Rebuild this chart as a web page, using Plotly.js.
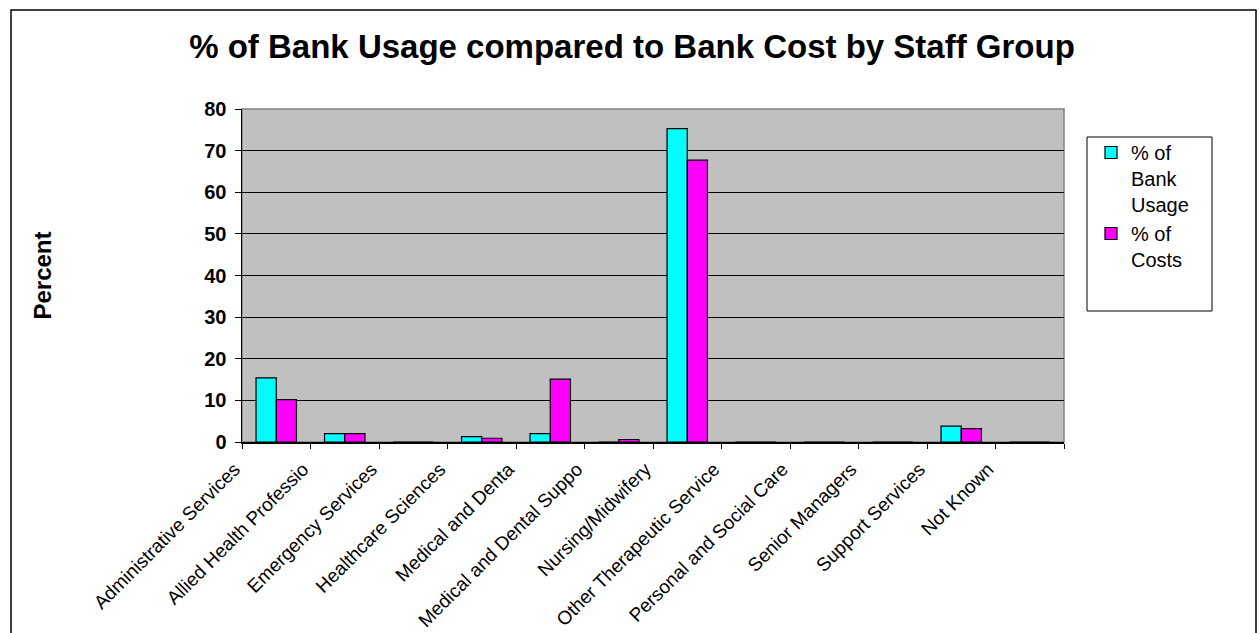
<!DOCTYPE html>
<html>
<head>
<meta charset="utf-8">
<script src="https://cdn.plot.ly/plotly-3.0.1.min.js"></script>
<style>html,body{margin:0;padding:0;background:#fff;}#chart{width:1259px;height:633px;}</style>
</head>
<body>
<div id="chart"></div>
<script>
const categories = ["Administrative Services","Allied Health Professio","Emergency Services","Healthcare Sciences","Medical and Denta","Medical and Dental Suppo","Nursing/Midwifery","Other Therapeutic Service","Personal and Social Care","Senior Managers","Support Services","Not Known"];
const bankUsage = [15.4, 2.0, 0, 1.3, 2.0, 0, 75.3, 0, 0, 0, 3.8, 0];
const bankCosts = [10.2, 2.0, 0, 0.9, 15.1, 0.6, 67.7, 0, 0, 0, 3.2, 0];
const seriesNames = ["% of<br>Bank<br>Usage", "% of<br>Costs"];
const yTicks = [0,10,20,30,40,50,60,70,80];

const L = 242, R = 1064, T = 109, B = 442, W = 1259, H = 633;
const pw = R - L, ph = B - T;
const px = v => (v - L) / pw;
const py = v => (B - v) / ph;
const FONT = 'Liberation Sans, Arial, sans-serif';
const NB = '\u00A0\u00A0';

const traces = [
  {type:'bar', x:categories, y:bankUsage, name:seriesNames[0],
   marker:{color:'#00FFFF', line:{color:'#000', width:1.2}}},
  {type:'bar', x:categories, y:bankCosts, name:seriesNames[1],
   marker:{color:'#FF00FF', line:{color:'#000', width:1.2}}},
  // carrier for the label axis; draws nothing
  {type:'scatter', mode:'markers', xaxis:'x2', yaxis:'y',
   x:categories.map((c,i)=>i), y:categories.map(()=>null),
   showlegend:false, hoverinfo:'skip', marker:{opacity:0}}
];

const layout = {
  width:W, height:H,
  margin:{l:L, r:W-R, t:T, b:H-B, pad:0},
  paper_bgcolor:'#fff', plot_bgcolor:'#C0C0C0',
  barmode:'group', bargap:0.41, bargroupgap:0,
  font:{family:FONT, color:'#000'},
  title:{text:'<b>% of Bank Usage compared to Bank Cost by Staff Group</b>',
    font:{size:33, family:FONT, color:'#000'},
    xref:'container', x:0.502, xanchor:'center', yref:'container', y:1-46/H, yanchor:'middle'},
  xaxis:{type:'category', range:[-0.5, categories.length-0.5], showticklabels:false,
    ticks:'outside', tickson:'boundaries', ticklen:5, tickcolor:'#000', tickwidth:1,
    showgrid:false, zeroline:false, showline:true, linecolor:'#000', linewidth:1.5},
  xaxis2:{type:'linear', overlaying:'x', anchor:'y', side:'bottom',
    range:[0, categories.length], tickmode:'array',
    tickvals:categories.map((c,i)=>i), ticktext:categories.map(c=>c+NB),
    tickangle:-45, ticks:'', ticklabelstandoff:4,
    showgrid:false, zeroline:false, showline:false,
    tickfont:{size:19, family:FONT, color:'#000'}},
  yaxis:{range:[0,80], tickmode:'array', tickvals:yTicks, ticktext:yTicks.map(String),
    ticks:'outside', ticklen:6, tickcolor:'#000', tickwidth:1, ticklabelstandoff:4,
    showgrid:true, gridcolor:'#000', gridwidth:1, zeroline:false,
    showline:true, linecolor:'#000', linewidth:1.5,
    tickfont:{size:20, family:FONT, color:'#000', weight:'bold'},
    title:{text:'<b>Percent</b>', standoff:146,
      font:{size:24, family:FONT, color:'#000'}}},
  showlegend:true,
  legend:{x:px(1091), y:py(133), xanchor:'left', yanchor:'top', valign:'top',
    bgcolor:'rgba(0,0,0,0)', borderwidth:0, tracegroupgap:12,
    font:{size:20, family:FONT, color:'#000'}},
  shapes:[
    {type:'rect', xref:'paper', yref:'paper', x0:0, x1:1, y0:0, y1:1,
     line:{color:'#808080', width:1.5}, layer:'below'},
    {type:'rect', xref:'paper', yref:'paper', x0:px(1087), x1:px(1212), y0:py(311), y1:py(137),
     line:{color:'#000', width:1}, fillcolor:'#fff', layer:'below'},
    {type:'rect', xref:'paper', yref:'paper', x0:px(11), x1:px(1256), y0:py(645), y1:py(10),
     line:{color:'#000', width:1.5}, layer:'below'}
  ]
};

Plotly.newPlot('chart', traces, layout, {displayModeBar:false, staticPlot:true});
</script>
</body>
</html>
